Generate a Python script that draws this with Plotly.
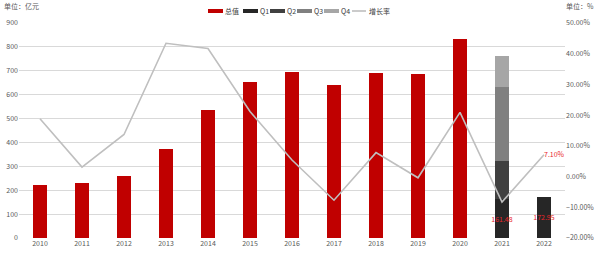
import plotly.graph_objects as go

years = [str(y) for y in range(2010, 2023)]
total_years = years[:11]
total_values = [222, 231, 260, 374, 534, 653, 694, 640, 691, 687, 833]
q_years = ["2021", "2022"]
q1_values = [161.48, 172.95]
q2_values = [160, None]
q3_values = [312, None]
q4_values = [129, None]
growth = [18.8, 3.1, 13.7, 43.4, 41.7, 21.2, 5.4, -7.7, 7.8, -0.4, 20.9, -8.3, 7.10]

RED = "#C00000"
Q_COLORS = ["#262626", "#404040", "#808080", "#A6A6A6"]
LINE = "#BFBFBF"
TXT = "#595959"
LABEL_RED = "#E8262B"
FONT = "Noto Sans CJK SC"
FS = 7

W, H = 600, 254
ML, MR, MT, MB = 19, 35, 23, 16
PW, PH = W - ML - MR, H - MT - MB

fig = go.Figure()
fig.add_trace(go.Bar(x=total_years, y=total_values, name="总值", marker_color=RED,
                     marker_line_width=0, showlegend=False))
q_series = [q1_values, q2_values, q3_values, q4_values]
for i, vals in enumerate(q_series):
    kw = {}
    if i == 0:
        kw = dict(texttemplate="%{y:.2f}", textposition="inside", textangle=0,
                  constraintext="none", insidetextanchor="middle",
                  textfont=dict(color=LABEL_RED, size=FS, family=FONT))
    fig.add_trace(go.Bar(x=q_years, y=vals, name=f"Q{i+1}", marker_color=Q_COLORS[i],
                         marker_line_width=0, showlegend=False, **kw))

last_text = [""] * (len(years) - 1) + [f"{growth[-1]:.2f}%"]
fig.add_trace(go.Scatter(x=years, y=growth, yaxis="y2", mode="lines+text", name="增长率",
                         line=dict(color=LINE, width=1.6), text=last_text,
                         textposition="middle right",
                         textfont=dict(color=LABEL_RED, size=FS, family=FONT),
                         showlegend=False, cliponaxis=False))

fig.update_layout(
    width=W, height=H, margin=dict(l=ML, r=MR, t=MT, b=MB),
    paper_bgcolor="white", plot_bgcolor="white",
    barmode="stack", bargap=0.66,
    font=dict(family=FONT, size=FS, color=TXT),
    xaxis=dict(type="category", range=[-0.5, 12.5], showgrid=False, zeroline=False,
               showline=False, ticks="", automargin=False,
               tickfont=dict(size=FS, color=TXT)),
    yaxis=dict(range=[0, 900], dtick=100, showgrid=True, gridcolor="#D9D9D9", gridwidth=1,
               zeroline=False, showline=False, ticks="", automargin=False,
               tickfont=dict(size=FS, color=TXT)),
    yaxis2=dict(range=[-20, 50], dtick=10, overlaying="y", side="right", showgrid=False,
                zeroline=False, showline=False, ticks="", tickformat=".2f", ticksuffix="%",
                automargin=False, tickfont=dict(size=FS, color=TXT)),
    showlegend=False,
)

def px_x(p):
    return (p - ML) / PW

def px_y(p):
    return (H - MB - p) / PH

# unit labels
fig.add_annotation(text="单位：亿元", xref="paper", yref="paper", x=px_x(2), y=px_y(6),
                   xanchor="left", yanchor="middle", showarrow=False,
                   font=dict(size=FS, color=TXT, family=FONT))
fig.add_annotation(text="单位：%", xref="paper", yref="paper", x=px_x(596), y=px_y(6),
                   xanchor="right", yanchor="middle", showarrow=False,
                   font=dict(size=FS, color=TXT, family=FONT))

# manual legend
legend_names = ["总值", "Q1", "Q2", "Q3", "Q4", "增长率"]
legend_colors = [RED] + Q_COLORS + [LINE]
legend_x = [208, 243, 270, 297, 324, 352]
legend_cy = 11
for name, col, lx in zip(legend_names, legend_colors, legend_x):
    if name == "增长率":
        fig.add_shape(type="line", xref="paper", yref="paper",
                      x0=px_x(lx), x1=px_x(lx + 14), y0=px_y(legend_cy), y1=px_y(legend_cy),
                      line=dict(color=col, width=1.6))
        tx = lx + 15
    else:
        fig.add_shape(type="rect", xref="paper", yref="paper",
                      x0=px_x(lx), x1=px_x(lx + 15), y0=px_y(legend_cy - 2), y1=px_y(legend_cy + 2),
                      fillcolor=col, line_width=0)
        tx = lx + 14.5
    fig.add_annotation(text=name, xref="paper", yref="paper", x=px_x(tx), y=px_y(legend_cy),
                       xanchor="left", yanchor="middle", showarrow=False,
                       font=dict(size=FS, color="#404040", family=FONT))

fig.write_html("out.html")
